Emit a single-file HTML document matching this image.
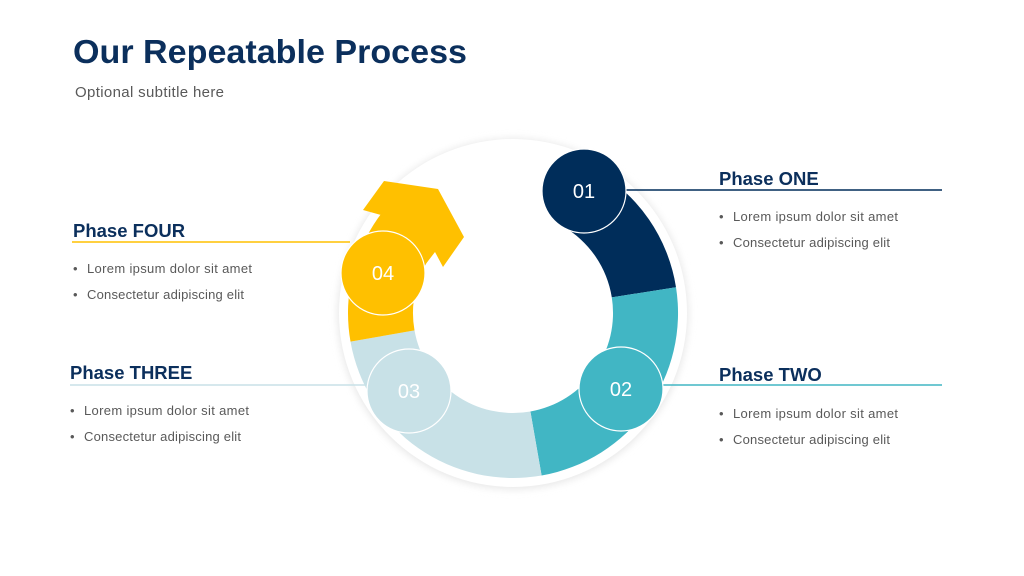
<!DOCTYPE html>
<html><head><meta charset="utf-8"><style>
body{margin:0;width:1024px;height:576px;overflow:hidden;background:#fff;font-family:"Liberation Sans",sans-serif;}
</style></head><body>
<svg width="1024" height="576" xmlns="http://www.w3.org/2000/svg" style="position:absolute;left:0;top:0">
<defs><filter id="sh" x="-20%" y="-20%" width="140%" height="140%"><feGaussianBlur stdDeviation="4"/></filter></defs>
<text x="73" y="63" font-family="Liberation Sans,sans-serif" font-weight="bold" font-size="33" textLength="394" lengthAdjust="spacingAndGlyphs" fill="#0b2f5c">Our Repeatable Process</text>
<text x="75" y="97" font-family="Liberation Sans,sans-serif" font-size="15" textLength="149" fill="#595959">Optional subtitle here</text>

<circle cx="513" cy="314" r="175" fill="#e6e6e6" filter="url(#sh)"/>
<circle cx="513" cy="313" r="174" fill="#fff"/>

<path d="M595.5,170.1 A165,165 0 0 1 676,287.2 L611.8,297.4 A100,100 0 0 0 563,226.4 Z" fill="#002d5a"/>
<path d="M676,287.2 A165,165 0 0 1 541.6,475.5 L530.4,411.5 A100,100 0 0 0 611.8,297.4 Z" fill="#41b6c4"/>
<path d="M541.6,475.5 A165,165 0 0 1 350.5,341.6 L414.5,330.4 A100,100 0 0 0 530.4,411.5 Z" fill="#c8e1e7"/>
<path d="M350.5,341.6 A165,165 0 0 1 386.6,206.9 L436.4,248.7 A100,100 0 0 0 414.5,330.4 Z" fill="#ffc000"/>
<polygon points="372,232 381,215 363,210 384,181 438,189 464,237 443,267 435,252 425,265 420,280 360,290" fill="#ffc000"/>

<line x1="620" y1="190" x2="942" y2="190" stroke="#002d5a" stroke-width="1.5"/>
<line x1="660" y1="385" x2="942" y2="385" stroke="#41b6c4" stroke-width="1.5"/>
<line x1="72" y1="242" x2="350" y2="242" stroke="#ffc000" stroke-width="1.5"/>
<line x1="70" y1="385" x2="370" y2="385" stroke="#c8e1e7" stroke-width="1.5"/>

<g stroke="#fff" stroke-width="1.2">
<circle cx="584" cy="191" r="42" fill="#002d5a"/>
<circle cx="621" cy="389" r="42" fill="#41b6c4"/>
<circle cx="409" cy="391" r="42" fill="#c8e1e7"/>
<circle cx="383" cy="273" r="42" fill="#ffc000"/>
</g>
<g font-family="Liberation Sans,sans-serif" font-size="20" text-anchor="middle" fill="#fff">
<text x="584" y="198">01</text>
<text x="621" y="396">02</text>
<text x="409" y="398">03</text>
<text x="383" y="280">04</text>
</g>

<g font-family="Liberation Sans,sans-serif" font-weight="bold" font-size="18.5" fill="#0b2f5c">
<text x="719" y="185">Phase ONE</text>
<text x="719" y="381">Phase TWO</text>
<text x="73" y="237">Phase FOUR</text>
<text x="70" y="379">Phase THREE</text>
</g>
<g font-family="Liberation Sans,sans-serif" font-size="13" fill="#595959">
<text x="719" y="221">•</text><text x="733" y="221" textLength="165">Lorem ipsum dolor sit amet</text>
<text x="719" y="247">•</text><text x="733" y="247" textLength="157">Consectetur adipiscing elit</text>
<text x="719" y="418">•</text><text x="733" y="418" textLength="165">Lorem ipsum dolor sit amet</text>
<text x="719" y="444">•</text><text x="733" y="444" textLength="157">Consectetur adipiscing elit</text>
<text x="73" y="273">•</text><text x="87" y="273" textLength="165">Lorem ipsum dolor sit amet</text>
<text x="73" y="299">•</text><text x="87" y="299" textLength="157">Consectetur adipiscing elit</text>
<text x="70" y="415">•</text><text x="84" y="415" textLength="165">Lorem ipsum dolor sit amet</text>
<text x="70" y="441">•</text><text x="84" y="441" textLength="157">Consectetur adipiscing elit</text>
</g>
</svg>
</body></html>
